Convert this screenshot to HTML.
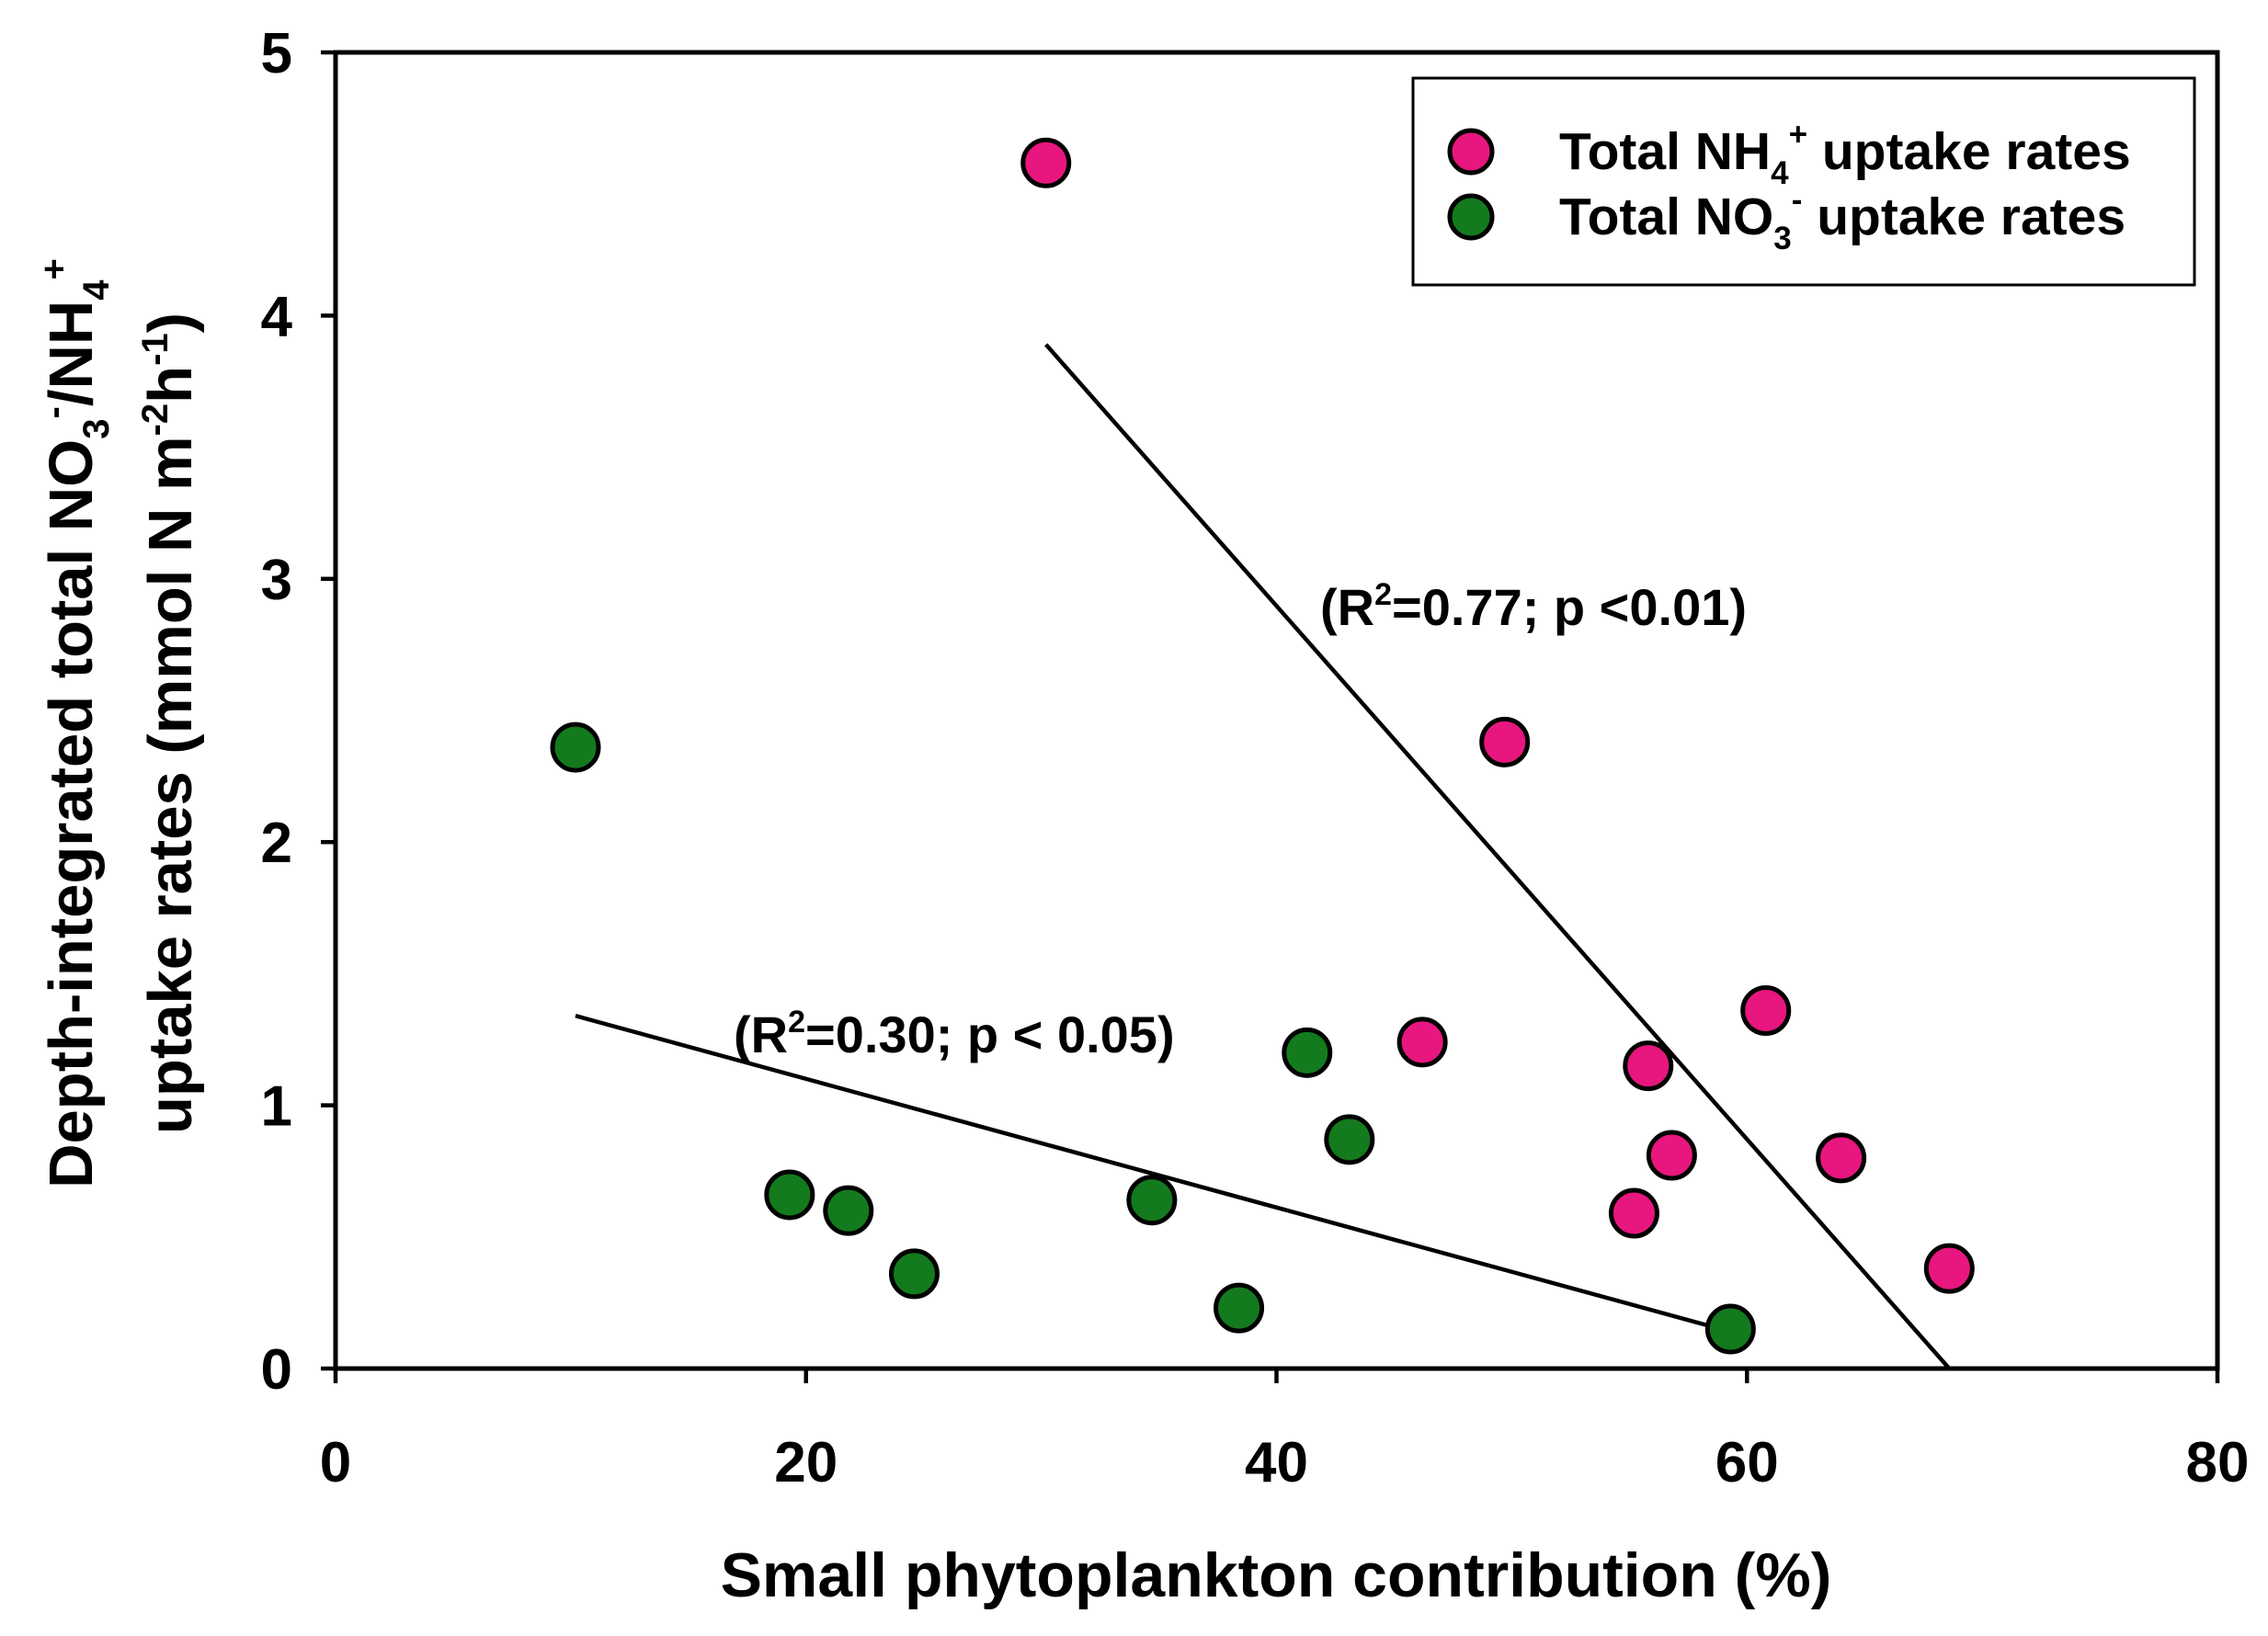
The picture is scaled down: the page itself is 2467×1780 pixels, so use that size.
<!DOCTYPE html>
<html><head><meta charset="utf-8"><style>
html,body{margin:0;padding:0;background:#fff}
svg{display:block;font-family:"Liberation Sans",Arial,sans-serif;font-weight:bold}
</style></head><body>
<svg id="chart" width="2467" height="1780" viewBox="0 0 2467 1780" xmlns="http://www.w3.org/2000/svg">
<g id="axes"></g>
<g id="lines"></g>
<g id="points"></g>
<text x="1436" y="680" font-size="56">(R<tspan font-size="34" dy="-22">2</tspan><tspan dy="22">=0.77; p &lt;0.01)</tspan></text>
<text x="798" y="1145" font-size="56">(R<tspan font-size="34" dy="-22">2</tspan><tspan dy="22">=0.30; p &lt; 0.05)</tspan></text>
<g>
<rect x="1537" y="85" width="850" height="225" fill="#fff" stroke="#000" stroke-width="3"/>
<circle cx="1600" cy="165" r="23" fill="#e8167f" stroke="#000" stroke-width="5"/>
<circle cx="1600" cy="236" r="23" fill="#137a1e" stroke="#000" stroke-width="5"/>
<text x="1696" y="184" font-size="57">Total NH<tspan font-size="35" dy="16">4</tspan><tspan font-size="35" dy="-42">+</tspan><tspan dy="26"> uptake rates</tspan></text>
<text x="1696" y="255" font-size="57">Total NO<tspan font-size="35" dy="16">3</tspan><tspan font-size="35" dy="-42">-</tspan><tspan dy="26"> uptake rates</tspan></text>
</g>
<text x="1388" y="1737" font-size="68" text-anchor="middle">Small phytoplankton contribution (%)</text>
<g transform="translate(100,787) rotate(-90)">
<text x="0" y="0" font-size="67" text-anchor="middle">Depth-integrated total NO<tspan font-size="40" dy="18">3</tspan><tspan font-size="40" dy="-46">-</tspan><tspan dy="28">/NH</tspan><tspan font-size="40" dy="18">4</tspan><tspan font-size="40" dy="-46">+</tspan><tspan dy="28"></tspan></text>
<text x="0" y="108" font-size="67" text-anchor="middle">uptake rates (mmol N m<tspan font-size="40" dy="-26">-2</tspan><tspan dy="26">h</tspan><tspan font-size="40" dy="-26">-1</tspan><tspan dy="26">)</tspan></text>
</g>
</svg>
<script>
const xTicks=[0,20,40,60,80];
const yTicks=[0,1,2,3,4,5];
const nh4X=[30.2,49.7,46.2,55.8,60.8,56.8,55.2,64.0,68.6];
const nh4Y=[4.58,2.38,1.24,1.15,1.36,0.81,0.59,0.80,0.38];
const no3X=[10.2,19.3,21.8,24.6,34.7,38.4,41.3,43.1,59.3];
const no3Y=[2.36,0.66,0.60,0.36,0.64,0.23,1.20,0.87,0.15];
const nh4Fit=[[30.2,3.89],[68.6,0.0]];
const no3Fit=[[10.2,1.34],[58.9,0.15]];
const L=365,R=2412,T=57,B=1489;
const sx=v=>L+(v-0)/(80-0)*(R-L);
const sy=v=>B-(v-0)/(5-0)*(B-T);
const NS='http://www.w3.org/2000/svg';
function mk(tag,parent,attrs){const e=document.createElementNS(NS,tag);for(const k in attrs)e.setAttribute(k,attrs[k]);parent.appendChild(e);return e;}
const axes=document.getElementById('axes');
let f=mk('rect',axes,{x:L,y:T,width:R-L,height:B-T,fill:'none',stroke:'#000','stroke-width':5});


xTicks.forEach(t=>{
 let l=mk('line',axes,{x1:sx(t),x2:sx(t),y1:B,y2:B+16,stroke:'#000','stroke-width':4.5});
 
 
 let tx=mk('text',axes,{x:sx(t),y:1612,'font-size':62,'text-anchor':'middle'});
 tx.textContent=t;
 
 
});
yTicks.forEach(t=>{
 let l=mk('line',axes,{x1:L-16,x2:L,y1:sy(t),y2:sy(t),stroke:'#000','stroke-width':4.5});
 
 
 let tx=mk('text',axes,{x:318,y:sy(t)+22,'font-size':62,'text-anchor':'end'});
 tx.textContent=t;
 
 
});
const lines=document.getElementById('lines');
[[nh4Fit,'nh4-regression-line'],[no3Fit,'no3-regression-line']].forEach(([p,n])=>{
 let l=mk('line',lines,{x1:sx(p[0][0]),y1:sy(p[0][1]),x2:sx(p[1][0]),y2:sy(p[1][1]),stroke:'#000','stroke-width':4.5});
 
});
const pts=document.getElementById('points');
no3X.forEach((x,i)=>{
 let c=mk('circle',pts,{cx:sx(x),cy:sy(no3Y[i]),r:25,fill:'#137a1e',stroke:'#000','stroke-width':5});
 
 
});
nh4X.forEach((x,i)=>{
 let c=mk('circle',pts,{cx:sx(x),cy:sy(nh4Y[i]),r:25,fill:'#e8167f',stroke:'#000','stroke-width':5});
 
 
});
</script>
</body></html>
